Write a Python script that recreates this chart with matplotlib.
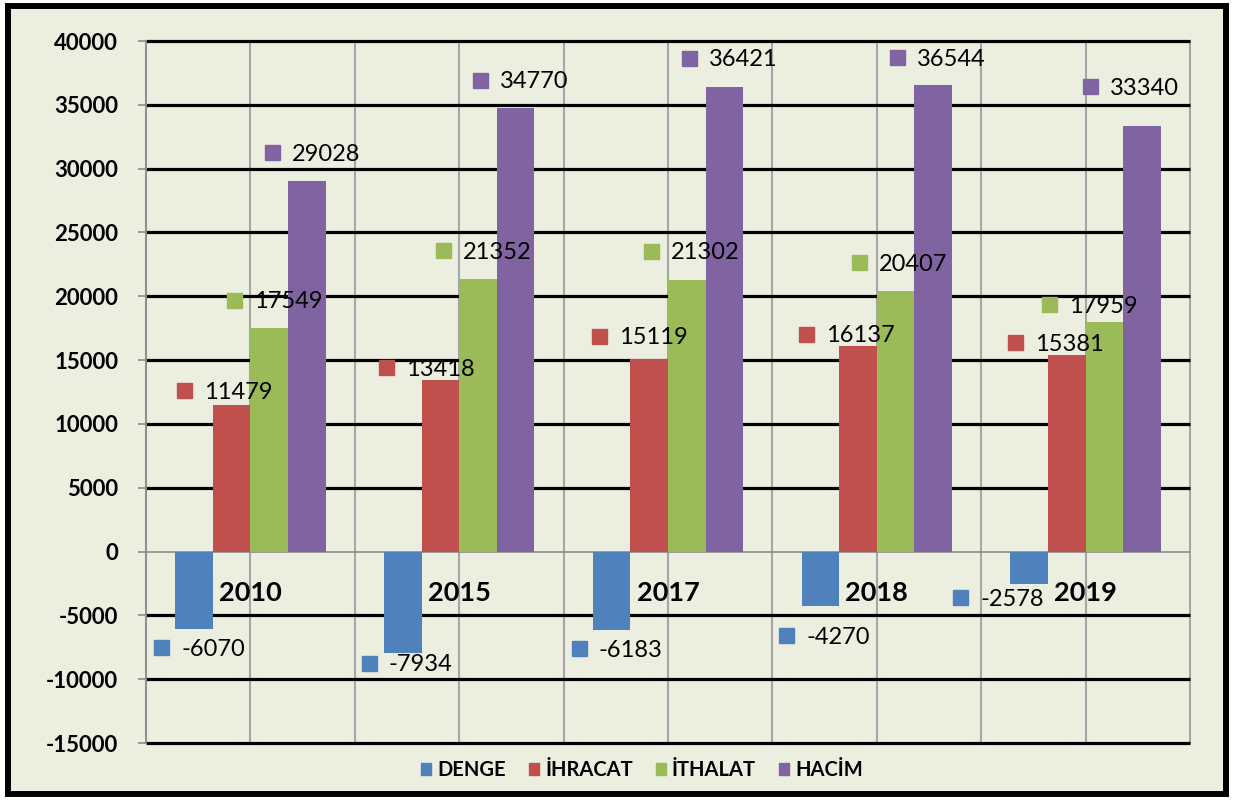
import matplotlib

matplotlib.use("Agg")
import matplotlib.pyplot as plt
import numpy as np
from matplotlib.patches import Patch, Rectangle
from matplotlib.transforms import offset_copy

plt.rcParams["font.family"] = ["Lato", "DejaVu Sans"]

# Veriler
yillar = ["2010", "2015", "2017", "2018", "2019"]
seriler = ["DENGE", "İHRACAT", "İTHALAT", "HACİM"]
denge = [-6070, -7934, -6183, -4270, -2578]
ihracat = [11479, 13418, 15119, 16137, 15381]
ithalat = [17549, 21352, 21302, 20407, 17959]
hacim = [29028, 34770, 36421, 36544, 33340]

renkler = ["#4F81BD", "#C0504D", "#9BBB59", "#8064A2"]

# etiket kutucuğunun çubuk merkezine / ucuna göre kayması (piksel)
etiket_dx = [[-33, -34, -33, -34, -69],
             [-48, -54, -50, -52, -52],
             [-35, -35, -36, -37, -55],
             [-35, -36, -35, -36, -52]]
etiket_dy = [[-18, -10, -18, -29, -13],
             [15, 13, 23, 12, 13],
             [28, 29, 29, 29, 18],
             [29, 28, 29, 28, 40]]

fig = plt.figure(figsize=(12.34, 8), dpi=100, facecolor="white")
fig.patches.append(Rectangle((8 / 1234, 6 / 800), 1218 / 1234, 788 / 800,
                             transform=fig.transFigure, facecolor="#ECEFE0",
                             edgecolor="black", linewidth=4.3, zorder=-5))
ax = fig.add_axes([146 / 1234, 57 / 800, 1044 / 1234, 702 / 800])
ax.set_zorder(2)
ax.set_facecolor("none")

x = np.arange(len(yillar))
w = 0.18
ax.set_xlim(-0.5, len(yillar) - 0.5)
ax.set_ylim(-15000, 40000)

# ızgara
for xv in np.arange(-0.5, len(yillar), 0.5):
    ax.axvline(xv, color="#A6A6A6", lw=1.5, zorder=1, clip_on=False)
yt = np.arange(-15000, 40001, 5000)
ax.hlines([t for t in yt if t != 0], -0.5, len(yillar) - 0.5, color="black",
          lw=2.3, zorder=1, clip_on=False)
ax.axhline(0, color="#8C8C8C", lw=1.2, zorder=2)

for i, degerler in enumerate([denge, ihracat, ithalat, hacim]):
    xs = x + (i - 1.5) * w
    ax.bar(xs, degerler, width=w, color=renkler[i], zorder=3)
    for j, (xc, v) in enumerate(zip(xs, degerler)):
        dx, dy = etiket_dx[i][j], etiket_dy[i][j]
        tr_m = offset_copy(ax.transData, fig=fig, x=dx, y=dy, units="dots")
        ax.plot(xc, v, marker="s", ms=10.8, color=renkler[i], ls="none",
                transform=tr_m, zorder=4, clip_on=False)
        tr_t = offset_copy(ax.transData, fig=fig, x=dx + 20, y=dy - 2, units="dots")
        ax.text(xc, v, str(v), transform=tr_t, ha="left", va="center",
                fontsize=17, zorder=5)

for xc, yil in zip(x, yillar):
    ax.text(xc, -3260, yil, ha="center", va="center", fontsize=19.5,
            fontweight="bold", zorder=5)

ax.set_yticks(yt)
ax.set_yticklabels([str(t) for t in yt], fontsize=16, fontweight="bold")
ax.tick_params(axis="y", length=6, width=1.2, color="#8C8C8C", pad=14)
ax.set_xticks([])
for s in ["top", "right", "bottom"]:
    ax.spines[s].set_visible(False)
ax.spines["left"].set_color("#8C8C8C")
ax.spines["left"].set_linewidth(1.2)

tutamaclar = [Patch(color=c) for c in renkler]
fig.legend(tutamaclar, seriler, loc="center", ncol=4,
           bbox_to_anchor=(642 / 1234, 30 / 800), frameon=False,
           handlelength=0.5, handleheight=0.5, handletextpad=0.3,
           columnspacing=1.15, prop={"size": 14.5, "weight": "bold"})

fig.savefig("out.png", dpi=100, facecolor="white")
